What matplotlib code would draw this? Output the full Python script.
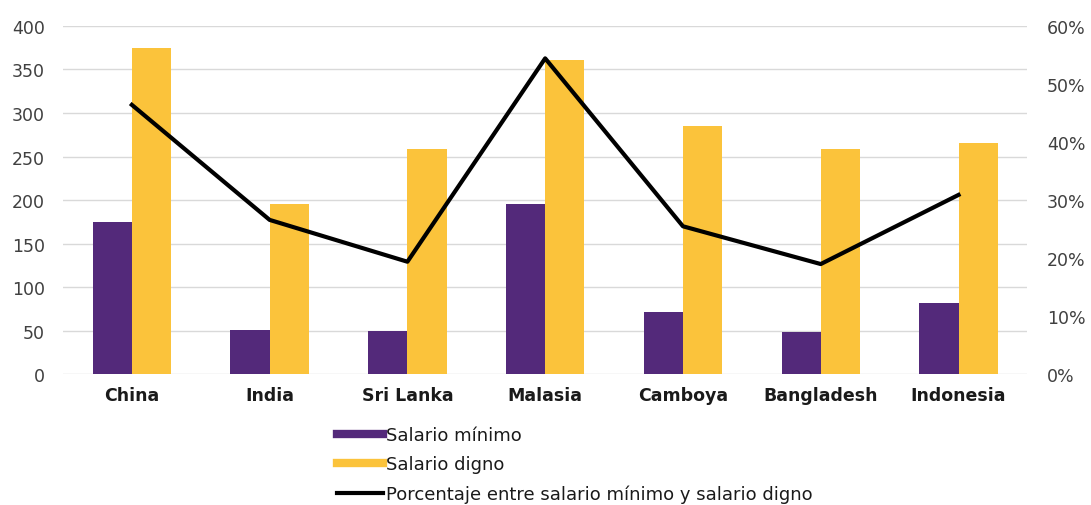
import numpy as np
import matplotlib
matplotlib.use("Agg")
import matplotlib.pyplot as plt
from matplotlib.lines import Line2D
from matplotlib.ticker import PercentFormatter

plt.rcParams['font.family'] = ['DejaVu Sans']

# Salarios mensuales (USD) y relación entre ambos
paises = ['China', 'India', 'Sri Lanka', 'Malasia', 'Camboya', 'Bangladesh', 'Indonesia']
salario_minimo = [175, 51, 50, 196, 72, 49, 82]
salario_digno = [375, 195, 259, 361, 285, 259, 266]
porcentaje = [46.4, 26.6, 19.4, 54.4, 25.5, 19.0, 30.9]

morado = '#53297A'
amarillo = '#FBC33B'
gris_texto = '#404040'

fig = plt.figure(figsize=(10.91, 5.06), dpi=100)
ax = fig.add_axes([0.0577, 0.258, 0.884, 0.689])

x = np.arange(len(paises))
w = 0.284
ax.bar(x - w / 2, salario_minimo, w, color=morado, zorder=2)
ax.bar(x + w / 2, salario_digno, w, color=amarillo, zorder=2)

ax.set_xlim(-0.5, len(paises) - 0.5)
ax.set_ylim(0, 400)
ax.set_yticks(np.arange(0, 401, 50))
ax.grid(axis='y', color='#D9D9D9', lw=1, zorder=0)
ax.set_axisbelow(True)
for s in ax.spines.values():
    s.set_visible(False)
ax.tick_params(length=0, labelsize=12.5, labelcolor=gris_texto, pad=13)
ax.set_xticks(x)
ax.set_xticklabels(paises, fontweight='bold', fontsize=12.5, color='#1a1a1a')
ax.tick_params(axis='x', pad=8)

ax2 = ax.twinx()
ax2.plot(x, porcentaje, color='black', lw=3, zorder=3)
ax2.set_ylim(0, 60)
ax2.set_yticks(np.arange(0, 61, 10))
ax2.yaxis.set_major_formatter(PercentFormatter(decimals=0))
for s in ax2.spines.values():
    s.set_visible(False)
ax2.tick_params(length=0, labelsize=12.5, labelcolor=gris_texto, pad=14)

handles = [
    Line2D([], [], color=morado, lw=6),
    Line2D([], [], color=amarillo, lw=6),
    Line2D([], [], color='black', lw=3),
]
labels = ['Salario mínimo', 'Salario digno', 'Porcentaje entre salario mínimo y salario digno']
fig.legend(handles, labels, loc='upper left', bbox_to_anchor=(0.309, 0.156),
           frameon=False, fontsize=13, handlelength=2.55, handletextpad=0.15,
           labelspacing=0.62, borderaxespad=0, borderpad=0, labelcolor='#1a1a1a')

fig.savefig('out.png', dpi=100)
